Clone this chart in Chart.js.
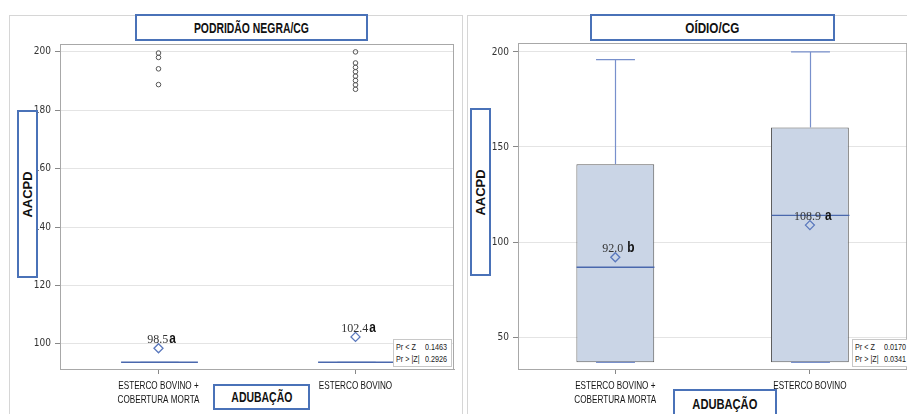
<!DOCTYPE html>
<html>
<head>
<meta charset="utf-8">
<script src="https://cdn.jsdelivr.net/npm/chart.js@4/dist/chart.umd.min.js"></script>
<style>
  html,body{margin:0;padding:0;background:#fff;}
  body{width:907px;height:414px;position:relative;overflow:hidden;}
  .frame{position:absolute;border:1px solid #d6d6d6;box-sizing:border-box;}
  .cw{position:absolute;top:0;height:414px;}
  .tbox{position:absolute;border:2px solid #4a72b8;background:#fff;box-sizing:border-box;
        display:flex;align-items:center;justify-content:center;color:#111;white-space:nowrap;}
  .tbox span.fit{display:inline-block;}
  .title{font:bold 14px "Liberation Sans",Arial,sans-serif;}
  .ytitle span{display:block;transform:rotate(-90deg);font:bold 13px "Liberation Sans",Arial,sans-serif;}
  .xtitle{font:bold 14px "Liberation Sans",Arial,sans-serif;}
  .stat{position:absolute;border:1px solid #c8c8c8;background:#fff;box-sizing:border-box;
        font:8.5px "Liberation Sans",Arial,sans-serif;color:#222;}
  .stat span{position:absolute;white-space:nowrap;transform-origin:0 50%;transform:scaleX(0.85);}
</style>
</head>
<body>
<script>
// ---------------- DATA ----------------
const CATEGORIES = [["ESTERCO BOVINO +", "COBERTURA MORTA"], "ESTERCO BOVINO"];

// Painel 1: PODRIDÃO NEGRA/CG
const PN_TITLE = "PODRIDÃO NEGRA/CG";
const PN_MIN = [93.7, 93.7];
const PN_Q1 = [93.7, 93.7];
const PN_MEDIAN = [93.7, 93.7];
const PN_Q3 = [93.7, 93.7];
const PN_MAX = [93.7, 93.7];
const PN_MEAN = [98.5, 102.4];
const PN_LETTERS = ["a", "a"];
const PN_OUTLIERS = [
  [199.6, 198.1, 194.2, 188.8],
  [200.0, 196.2, 194.7, 193.2, 191.7, 190.2, 188.7, 187.2]
];
const PN_TICKS = [100, 120, 140, 160, 180, 200];
const PN_STATS = [["Pr < Z", "0.1463"], ["Pr > |Z|", "0.2926"]];

// Painel 2: OÍDIO/CG
const OI_TITLE = "OÍDIO/CG";
const OI_MIN = [36.7, 36.7];
const OI_Q1 = [36.7, 36.7];
const OI_MEDIAN = [86.7, 114.0];
const OI_Q3 = [140.9, 160.2];
const OI_MAX = [196.0, 200.0];
const OI_MEAN = [92.0, 108.9];
const OI_LETTERS = ["b", "a"];
const OI_OUTLIERS = [[], []];
const OI_TICKS = [50, 100, 150, 200];
const OI_STATS = [["Pr < Z", "0.0170"], ["Pr > |Z|", "0.0341"]];

const Y_TITLE = "AACPD";
const X_TITLE = "ADUBAÇÃO";
</script>

<div class="frame" style="left:9px;top:15px;width:454px;height:420px"></div>
<div class="frame" style="left:467px;top:15px;width:460px;height:420px"></div>

<div class="cw" style="left:0;width:462px"><canvas id="c1"></canvas></div>
<div class="cw" style="left:462px;width:451px"><canvas id="c2"></canvas></div>

<div class="tbox title" id="t1" style="left:135px;top:14px;width:233px;height:27px"><span class="fit" data-w="115"></span></div>
<div class="tbox title" id="t2" style="left:590px;top:14px;width:245px;height:27px"><span class="fit" data-w="54"></span></div>
<div class="tbox ytitle" id="y1" style="left:17px;top:110px;width:21px;height:168px"><span></span></div>
<div class="tbox ytitle" id="y2" style="left:470px;top:108px;width:21px;height:168px"><span></span></div>
<div class="tbox xtitle" id="x1" style="left:213px;top:384px;width:97px;height:26px"><span class="fit" data-w="61"></span></div>
<div class="tbox xtitle" id="x2" style="left:673px;top:389px;width:104px;height:30px"><span class="fit" data-w="65"></span></div>
<div class="stat" id="s1" style="left:393px;top:339px;width:59px;height:28px"></div>
<div class="stat" id="s2" style="left:852px;top:339px;width:60px;height:28px"></div>

<script>
document.querySelector('#t1 span').textContent = PN_TITLE;
document.querySelector('#t2 span').textContent = OI_TITLE;
document.querySelector('#y1 span').textContent = Y_TITLE;
document.querySelector('#y2 span').textContent = Y_TITLE;
document.querySelector('#x1 span').textContent = X_TITLE;
document.querySelector('#x2 span').textContent = X_TITLE;
document.querySelectorAll('span.fit').forEach(s => {
  const w = s.getBoundingClientRect().width;
  s.style.transform = 'scaleX(' + (parseFloat(s.dataset.w) / w).toFixed(3) + ')';
});
function fillStats(id, rows){
  const el = document.getElementById(id);
  rows.forEach((r, k) => {
    const a = document.createElement('span'); a.textContent = r[0];
    a.style.left = '2px'; a.style.top = (2 + k * 12) + 'px';
    const b = document.createElement('span'); b.textContent = r[1];
    b.style.left = '31px'; b.style.top = (2 + k * 12) + 'px';
    el.appendChild(a); el.appendChild(b);
  });
}
fillStats('s1', PN_STATS);
fillStats('s2', OI_STATS);

const BOX_FILL = '#cad5e6';
const BOX_EDGE = '#5c5c5c';
const MEDIAN_C = '#4a68ad';
const WHISK_C = '#7890cc';
const MEAN_C = '#5a78bd';

const boxPlugin = {
  id: 'boxdraw',
  beforeDatasetsDraw(chart) {
    const {ctx, chartArea:a} = chart;
    ctx.save();
    ctx.strokeStyle = '#a8a8a8';
    ctx.lineWidth = 1;
    ctx.strokeRect(a.left + 0.5, a.top + 0.5, a.right - a.left - 1, a.bottom - a.top);
    ctx.restore();
  },
  afterDatasetDraw(chart, args, opts) {
    if (args.index !== 0) return;
    const {ctx, scales:{x, y}} = chart;
    const meta = chart.getDatasetMeta(0);
    const b = opts.box;
    ctx.save();
    b.median.forEach((m, i) => {
      const cx = Math.round(x.getPixelForValue(i)) + 0.5;
      const half = meta.data[i].width / 2;
      ctx.strokeStyle = WHISK_C;
      ctx.lineWidth = 1.2;
      ctx.beginPath();
      ctx.moveTo(cx, y.getPixelForValue(b.q3[i]));
      ctx.lineTo(cx, y.getPixelForValue(b.max[i]));
      ctx.moveTo(cx, y.getPixelForValue(b.q1[i]));
      ctx.lineTo(cx, y.getPixelForValue(b.min[i]));
      ctx.moveTo(cx - half / 2, y.getPixelForValue(b.max[i]));
      ctx.lineTo(cx + half / 2, y.getPixelForValue(b.max[i]));
      ctx.moveTo(cx - half / 2, y.getPixelForValue(b.min[i]));
      ctx.lineTo(cx + half / 2, y.getPixelForValue(b.min[i]));
      ctx.stroke();
      ctx.strokeStyle = MEDIAN_C;
      ctx.lineWidth = 1.4;
      ctx.beginPath();
      ctx.moveTo(cx - half, y.getPixelForValue(m));
      ctx.lineTo(cx + half, y.getPixelForValue(m));
      ctx.stroke();
    });
    ctx.restore();
  },
  afterDatasetsDraw(chart, args, opts) {
    const {ctx, scales:{x, y}} = chart;
    const b = opts.box;
    ctx.save();
    ctx.textBaseline = 'alphabetic';
    const numFont = '12px "Liberation Serif","Times New Roman",serif';
    const letFont = 'bold 14px "Liberation Sans",Arial,sans-serif';
    b.mean.forEach((m, i) => {
      const num = m.toFixed(1);
      const let_ = b.letters[i];
      ctx.font = numFont;
      const w1 = ctx.measureText(num).width;
      ctx.font = letFont;
      const w2 = ctx.measureText(let_).width * 0.85;
      const gap = opts.gap;
      const total = w1 + gap + w2;
      const cx = x.getPixelForValue(i) + 3;
      const by = y.getPixelForValue(m) - 5;
      const x0 = cx - total / 2;
      ctx.fillStyle = '#333';
      ctx.font = numFont;
      ctx.fillText(num, x0, by);
      ctx.fillStyle = '#111';
      ctx.font = letFont;
      ctx.save();
      ctx.translate(x0 + w1 + gap, by);
      ctx.scale(0.85, 1);
      ctx.fillText(let_, 0, 0);
      ctx.restore();
    });
    // category labels (condensed)
    ctx.fillStyle = '#151515';
    ctx.font = '11px "Liberation Sans",Arial,sans-serif';
    ctx.textAlign = 'center';
    ctx.textBaseline = 'top';
    CATEGORIES.forEach((lab, i) => {
      const lines = Array.isArray(lab) ? lab : [lab];
      const cx = x.getPixelForValue(i);
      lines.forEach((ln, k) => {
        ctx.save();
        ctx.translate(cx, x.top + opts.xpad + k * 14);
        ctx.scale(0.74, 1);
        ctx.fillText(ln, 0, 0);
        ctx.restore();
      });
    });
    ctx.restore();
  }
};

function makeChart(id, d) {
  const outPts = d.outliers.flatMap((arr, i) => arr.map(v => ({x: i, y: v})));
  const meanPts = d.mean.map((v, i) => ({x: i, y: v}));
  return new Chart(document.getElementById(id), {
    type: 'bar',
    data: {
      labels: CATEGORIES,
      datasets: [
        {
          type: 'bar', order: 3,
          data: d.q1.map((v, i) => [v, d.q3[i]]),
          backgroundColor: BOX_FILL, borderColor: BOX_EDGE, borderWidth: 1,
          borderSkipped: false, barPercentage: d.barPct, categoryPercentage: 1
        },
        {
          type: 'line', order: 1, showLine: false, data: meanPts, parsing: false,
          pointStyle: 'rectRot', pointRadius: 4.5, pointBorderWidth: 1.3,
          pointBorderColor: MEAN_C, pointBackgroundColor: 'rgba(0,0,0,0)'
        },
        {
          type: 'line', order: 2, showLine: false, data: outPts, parsing: false,
          pointStyle: 'circle', pointRadius: 2.3, pointBorderWidth: 1,
          pointBorderColor: '#555', pointBackgroundColor: 'rgba(0,0,0,0)'
        }
      ]
    },
    options: {
      responsive: true, maintainAspectRatio: false, animation: false,
      layout: {padding: d.padding},
      plugins: {legend: {display: false}, tooltip: {enabled: false},
                boxdraw: {box: d, gap: d.gap, xpad: d.xpad}},
      scales: {
        x: {
          type: 'category', offset: true,
          afterFit: s => { s.height = d.xh; },
          grid: {drawOnChartArea: false, offset: false, drawTicks: true, tickLength: 5, tickColor: '#888'},
          border: {color: '#a8a8a8'},
          ticks: {display: false}
        },
        y: {
          min: d.ymin, max: d.ymax,
          afterFit: s => { s.width = d.yw; },
          afterBuildTicks: s => { s.ticks = d.ticks.map(v => ({value: v})); },
          grid: {color: '#e4e4e4', tickColor: '#888', tickLength: 5, drawTicks: true},
          border: {color: '#a8a8a8'},
          ticks: {color: '#333', padding: 4,
                  font: {family: '"DejaVu Sans Condensed",sans-serif', size: 10}}
        }
      }
    },
    plugins: [boxPlugin]
  });
}

makeChart('c1', {
  min: PN_MIN, q1: PN_Q1, median: PN_MEDIAN, q3: PN_Q3, max: PN_MAX,
  mean: PN_MEAN, letters: PN_LETTERS, outliers: PN_OUTLIERS, ticks: PN_TICKS,
  ymin: 91.4, ymax: 202.7, barPct: 0.39, gap: 1,
  padding: {left: 0, top: 44, right: 8, bottom: 0}, yw: 60, xh: 45, xpad: 11
});
makeChart('c2', {
  min: OI_MIN, q1: OI_Q1, median: OI_MEDIAN, q3: OI_Q3, max: OI_MAX,
  mean: OI_MEAN, letters: OI_LETTERS, outliers: OI_OUTLIERS, ticks: OI_TICKS,
  ymin: 33.2, ymax: 204.7, barPct: 0.4, gap: 4,
  padding: {left: 0, top: 43, right: 0, bottom: 0}, yw: 56, xh: 45, xpad: 11
});
</script>
</body>
</html>
